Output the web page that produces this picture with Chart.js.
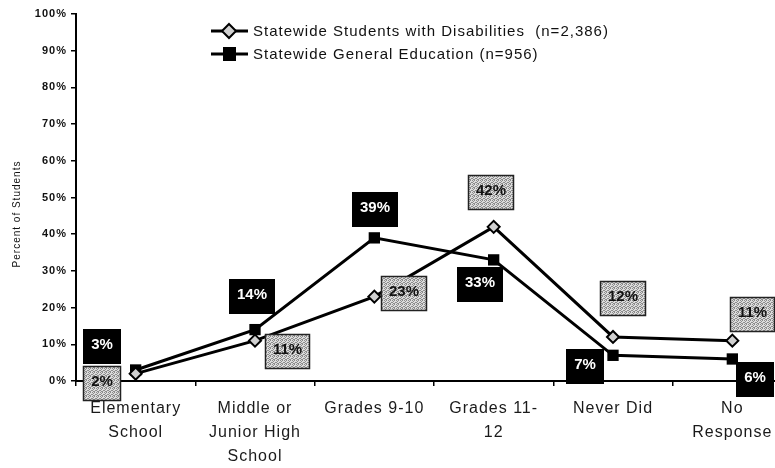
<!DOCTYPE html>
<html>
<head>
<meta charset="utf-8">
<script src="https://cdn.jsdelivr.net/npm/chart.js@4/dist/chart.umd.min.js"></script>
<style>
  html, body { margin: 0; padding: 0; background: #fff; overflow: hidden; }
  canvas { display: block; }
</style>
</head>
<body>
<canvas id="chart" width="800" height="468"></canvas>
<script>
// data
const categories = [
  ["Elementary", "School"],
  ["Middle or", "Junior High", "School"],
  ["Grades 9-10"],
  ["Grades 11-", "12"],
  ["Never Did"],
  ["No", "Response"]
];
const seriesNames = [
  "Statewide Students with Disabilities  (n=2,386)",
  "Statewide General Education (n=956)"
];
const disabilitiesValues = [2, 11, 23, 42, 12, 11];
const generalEdValues = [3, 14, 39, 33, 7, 6];
const yTickValues = [0, 10, 20, 30, 40, 50, 60, 70, 80, 90, 100];

// where each value box sits relative to its point (dx, dy)
const labelOffsets = [
  [[-34, 10], [32, 11], [30, -3], [-3, -34], [10, -38], [20, -26]],
  [[-34, -23], [-3, -33], [1, -28], [-14, 25], [-28, 11], [23, 21]]
];

const FONT = "'Liberation Sans', Arial, Helvetica, sans-serif";
Chart.defaults.font.family = FONT;
Chart.defaults.color = "#1a1a1a";

// grey halftone fill like the scanned boxes
function makeDots() {
  const c = document.createElement("canvas");
  c.width = 4; c.height = 4;
  const g = c.getContext("2d");
  g.fillStyle = "#dcdcdc";
  g.fillRect(0, 0, 4, 4);
  g.fillStyle = "#8c8c8c";
  [[0, 0], [2, 0], [1, 1], [3, 2], [0, 2], [2, 3], [1, 3]].forEach(p => g.fillRect(p[0], p[1], 1, 1));
  return g.createPattern(c, "repeat");
}
const dots = makeDots();

const spacing = {
  id: "spacing",
  beforeDraw(chart) {
    chart.ctx.letterSpacing = "1px";
  }
};

const extras = {
  id: "extras",
  afterDraw(chart) {
    const ctx = chart.ctx;
    ctx.save();

    // y axis title
    ctx.save();
    ctx.translate(17, 214);
    ctx.rotate(-Math.PI / 2);
    ctx.font = "10px " + FONT;
    ctx.letterSpacing = "1px";
    ctx.fillStyle = "#111";
    ctx.textAlign = "center";
    ctx.textBaseline = "middle";
    ctx.fillText("Percent of Students", 0, 0);
    ctx.restore();

    // legend
    const rows = [31, 54];
    rows.forEach((y, i) => {
      ctx.strokeStyle = "#000";
      ctx.lineWidth = 3;
      ctx.beginPath();
      ctx.moveTo(211, y);
      ctx.lineTo(248, y);
      ctx.stroke();
      ctx.lineWidth = 2;
      if (i === 0) {
        ctx.fillStyle = "#d0d0d0";
        ctx.beginPath();
        ctx.moveTo(229, y - 7);
        ctx.lineTo(236, y);
        ctx.lineTo(229, y + 7);
        ctx.lineTo(222, y);
        ctx.closePath();
        ctx.fill();
        ctx.stroke();
      } else {
        ctx.fillStyle = "#000";
        ctx.fillRect(223, y - 7, 13, 14);
      }
      ctx.font = "15px " + FONT;
      ctx.letterSpacing = "1px";
      ctx.fillStyle = "#111";
      ctx.textAlign = "left";
      ctx.textBaseline = "middle";
      ctx.fillText(seriesNames[i], 253, y + 1);
    });

    // value boxes
    ctx.font = "bold 15px " + FONT;
    ctx.letterSpacing = "0px";
    ctx.textAlign = "center";
    ctx.textBaseline = "middle";
    chart.data.datasets.forEach((ds, i) => {
      const meta = chart.getDatasetMeta(i);
      meta.data.forEach((pt, j) => {
        const text = ds.data[j] + "%";
        const w = Math.round(ctx.measureText(text).width + 16);
        const h = 35;
        const x = Math.round(pt.x + labelOffsets[i][j][0] - w / 2);
        const y = Math.round(pt.y + labelOffsets[i][j][1] - h / 2);
        if (i === 0) {
          ctx.fillStyle = dots;
          ctx.fillRect(x, y, w, h);
          ctx.strokeStyle = "#222";
          ctx.lineWidth = 1.5;
          ctx.strokeRect(x + 0.5, y + 0.5, w - 1, h - 1);
          ctx.fillStyle = "#111";
        } else {
          ctx.fillStyle = "#000";
          ctx.fillRect(x, y, w, h);
          ctx.fillStyle = "#fff";
        }
        ctx.fillText(text, x + w / 2, y + h / 2 - 2);
      });
    });
    ctx.restore();
  }
};

new Chart(document.getElementById("chart"), {
  type: "line",
  data: {
    labels: categories,
    datasets: [
      {
        label: seriesNames[0],
        data: disabilitiesValues,
        borderColor: "#000",
        borderWidth: 3,
        pointStyle: "rectRot",
        pointRadius: 6,
        pointBackgroundColor: "#d0d0d0",
        pointBorderColor: "#000",
        pointBorderWidth: 2,
        tension: 0
      },
      {
        label: seriesNames[1],
        data: generalEdValues,
        borderColor: "#000",
        borderWidth: 3,
        pointStyle: "rect",
        pointRadius: 8,
        pointBackgroundColor: "#000",
        pointBorderColor: "#000",
        pointBorderWidth: 0,
        tension: 0
      }
    ]
  },
  options: {
    responsive: false,
    devicePixelRatio: 1,
    animation: false,
    layout: { padding: { top: 14, left: 0, right: 7, bottom: 0 } },
    plugins: {
      legend: { display: false },
      tooltip: { enabled: false }
    },
    scales: {
      x: {
        offset: true,
        grid: {
          offset: true,
          drawOnChartArea: false,
          drawTicks: true,
          tickLength: 5,
          color: "#000",
          lineWidth: 1.5
        },
        border: { color: "#000", width: 2 },
        ticks: {
          padding: 11,
          color: "#1a1a1a",
          maxRotation: 0,
          autoSkip: false,
          font: { size: 16, lineHeight: 1.5 }
        },
        afterFit(scale) { scale.height = 87; }
      },
      y: {
        min: 0,
        max: 100,
        afterBuildTicks(scale) {
          scale.ticks = yTickValues.map(v => ({ value: v }));
        },
        grid: {
          drawOnChartArea: false,
          drawTicks: true,
          tickLength: 5,
          color: "#000",
          lineWidth: 1.5
        },
        border: { color: "#000", width: 2 },
        ticks: {
          padding: 4,
          color: "#111",
          font: { size: 11, weight: "bold" },
          callback: v => v + "%"
        },
        afterFit(scale) { scale.width = 76; }
      }
    }
  },
  plugins: [spacing, extras]
});
</script>
</body>
</html>
